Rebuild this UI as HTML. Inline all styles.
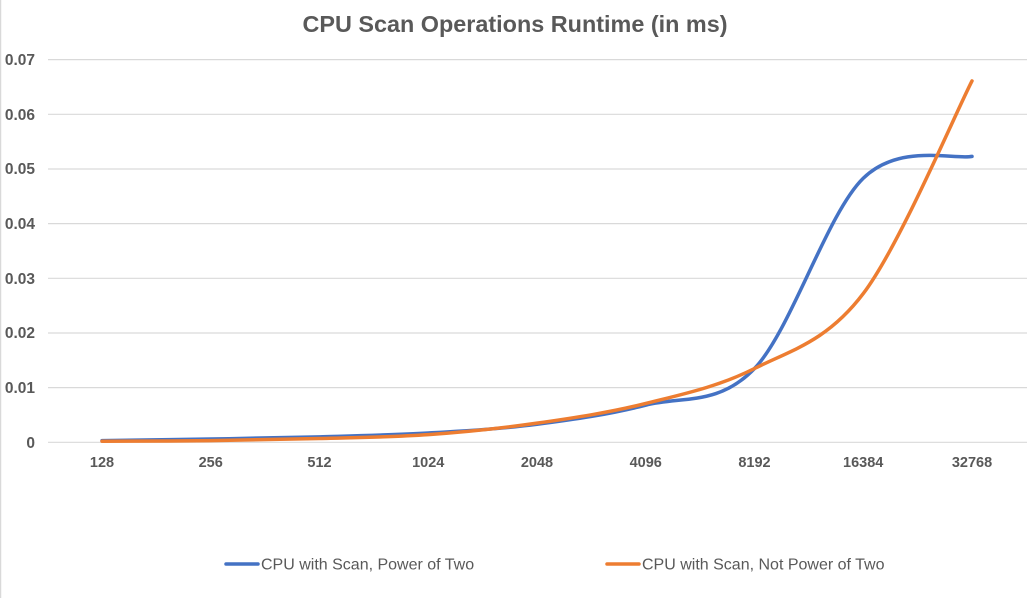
<!DOCTYPE html>
<html><head><meta charset="utf-8"><style>
body{margin:0;background:#fff;}
svg text{font-family:"Liberation Sans",Arial,sans-serif;fill:#595959;}
</style></head><body>
<svg id="s" width="1032" height="598" viewBox="0 0 1032 598" xmlns="http://www.w3.org/2000/svg">
<rect x="0" y="0" width="1032" height="598" fill="#fff"/>
<line x1="0.5" y1="0" x2="0.5" y2="598" stroke="#d9d9d9" stroke-width="1.5"/>
<text x="515" y="32" font-size="23.4" font-weight="bold" text-anchor="middle">CPU Scan Operations Runtime (in ms)</text>
<g stroke="#d9d9d9" stroke-width="1.2">
<line x1="48" x2="1027" y1="59.6" y2="59.6"/>
<line x1="48" x2="1027" y1="114.3" y2="114.3"/>
<line x1="48" x2="1027" y1="169" y2="169"/>
<line x1="48" x2="1027" y1="223.6" y2="223.6"/>
<line x1="48" x2="1027" y1="278.3" y2="278.3"/>
<line x1="48" x2="1027" y1="333" y2="333"/>
<line x1="48" x2="1027" y1="387.6" y2="387.6"/>
<line x1="48" x2="1027" y1="442.3" y2="442.3"/>
</g>
<g font-size="15.5" font-weight="bold" text-anchor="end">
<text x="35" y="65">0.07</text>
<text x="35" y="120">0.06</text>
<text x="35" y="174">0.05</text>
<text x="35" y="229">0.04</text>
<text x="35" y="284">0.03</text>
<text x="35" y="338">0.02</text>
<text x="35" y="393">0.01</text>
<text x="35" y="448">0</text>
</g>
<g font-size="14.5" font-weight="bold" text-anchor="middle">
<text x="102" y="467">128</text>
<text x="210.7" y="467">256</text>
<text x="319.5" y="467">512</text>
<text x="428.2" y="467">1024</text>
<text x="537" y="467">2048</text>
<text x="645.7" y="467">4096</text>
<text x="754.5" y="467">8192</text>
<text x="863.2" y="467">16384</text>
<text x="972" y="467">32768</text>
</g>
<path id="pb" fill="none" stroke="#4472c4" stroke-width="3.5" stroke-linecap="round"/>
<path id="po" fill="none" stroke="#ed7d31" stroke-width="3.5" stroke-linecap="round"/>
<line x1="226" y1="564" x2="258" y2="564" stroke="#4472c4" stroke-width="3.5" stroke-linecap="round"/>
<text x="261" y="569.5" font-size="16">CPU with Scan, Power of Two</text>
<line x1="607" y1="564" x2="639" y2="564" stroke="#ed7d31" stroke-width="3.5" stroke-linecap="round"/>
<text x="642" y="569.5" font-size="16">CPU with Scan, Not Power of Two</text>
</svg>
<script>
function Y(v){return 442.3-v*5466.7;}
function X(i){return 102+i*108.75;}
function path(vals){
 var p=vals.map(function(v,i){return [X(i),Y(v)];});
 var d="M"+p[0][0]+","+p[0][1];
 for(var i=0;i<p.length-1;i++){
  var a=p[i-1]||p[i],b=p[i],c=p[i+1],e=p[i+2]||p[i+1];
  var c1=[b[0]+(c[0]-a[0])/6,b[1]+(c[1]-a[1])/6];
  var c2=[c[0]-(e[0]-b[0])/6,c[1]-(e[1]-b[1])/6];
  d+=" C"+c1+" "+c2+" "+c;
 }
 return d;
}
document.getElementById("pb").setAttribute("d",path([0.0003,0.0006,0.001,0.0017,0.0033,0.0068,0.0135,0.0483,0.0523]));
document.getElementById("po").setAttribute("d",path([0.0002,0.0003,0.0007,0.0014,0.0035,0.0071,0.0135,0.0272,0.0661]));
</script>
</body></html>
